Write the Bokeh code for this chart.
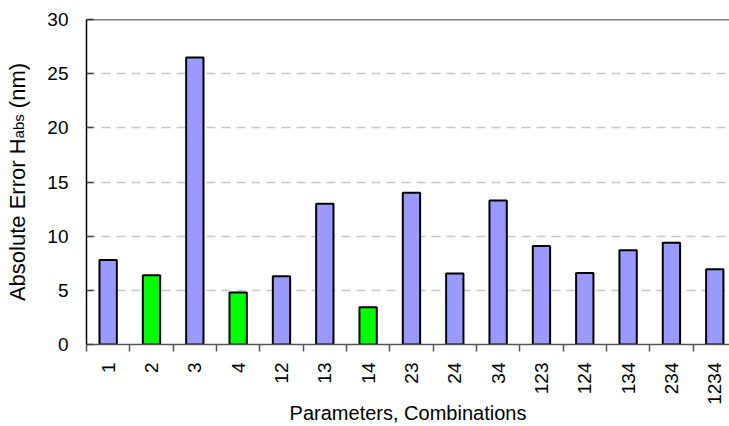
import numpy as np
from bokeh.plotting import figure
from bokeh.layouts import row
from bokeh.models import Range1d, FixedTicker, Span, ColumnDataSource, Label
from bokeh.embed import file_html
from bokeh.resources import INLINE

categories = ["1", "2", "3", "4", "12", "13", "14", "23", "24", "34",
              "123", "124", "134", "234", "1234"]
errors = [7.8, 6.4, 26.5, 4.8, 6.3, 13.0, 3.45, 14.0, 6.55, 13.3,
          9.1, 6.6, 8.7, 9.4, 6.95]
highlighted = ["2", "4", "14"]
y_ticks = [0, 5, 10, 15, 20, 25, 30]

FONT = "Liberation Sans"
BLUE = "#9999ff"
GREEN = "#00ff00"

W, H = 729, 426
LAB_W = 30
TOP, LEFT, BOTTOM = 19, 86, 82
FRAME_H = H - TOP - BOTTOM

centers = [i + 0.5 for i in range(len(categories))]
bounds = [float(i) for i in range(len(categories) + 1)]
colors = [GREEN if c in highlighted else BLUE for c in categories]

src = ColumnDataSource(dict(x=centers, top=errors, color=colors, cat=categories))

# ---- main chart ----
p = figure(width=W - LAB_W, height=H, output_backend="svg", toolbar_location=None,
           x_range=Range1d(0, 14.84), y_range=Range1d(0, 30),
           min_border_top=TOP, min_border_left=LEFT - LAB_W, min_border_right=0,
           min_border_bottom=BOTTOM)
p.outline_line_color = None
p.background_fill_color = "white"
p.border_fill_color = "white"

p.vbar(x="x", top="top", width=0.4, fill_color="color", line_color="black",
       line_width=2, source=src)

p.add_layout(Span(location=30, dimension="width", line_color="black", line_width=1.5))

p.xgrid.grid_line_color = None
p.ygrid.grid_line_color = "#c8c8c8"
p.ygrid.grid_line_dash = "9 6"
p.ygrid.grid_line_width = 1.5
p.ygrid.ticker = FixedTicker(ticks=y_ticks)

ya = p.yaxis[0]
ya.ticker = FixedTicker(ticks=y_ticks)
ya.axis_line_color = "black"
ya.axis_line_width = 1.5
ya.major_tick_in = 7
ya.major_tick_out = 0
ya.major_tick_line_color = "#444444"
ya.major_tick_line_width = 1.5
ya.minor_tick_line_color = None
ya.major_label_standoff = 18
ya.major_label_text_font = FONT
ya.major_label_text_font_size = "19px"
ya.major_label_text_color = "black"

xa = p.xaxis[0]
xa.ticker = FixedTicker(ticks=centers, minor_ticks=bounds)
xa.major_label_overrides = {c: lab for c, lab in zip(centers, categories)}
xa.major_label_orientation = np.pi / 2
xa.axis_line_color = "#555555"
xa.axis_line_width = 1.5
xa.major_tick_line_color = None
xa.major_tick_in = 0
xa.major_tick_out = 0
xa.minor_tick_in = 0
xa.minor_tick_out = 7
xa.minor_tick_line_color = "#555555"
xa.minor_tick_line_width = 1.5
xa.major_label_standoff = 11
xa.major_label_text_font = FONT
xa.major_label_text_font_size = "19px"
xa.major_label_text_color = "black"
xa.axis_label = "Parameters, Combinations"
xa.axis_label_text_font = FONT
xa.axis_label_text_font_size = "20px"
xa.axis_label_text_font_style = "normal"
xa.axis_label_text_color = "black"
xa.axis_label_standoff = -6

# ---- narrow strip holding the y-axis title (with subscript) ----
lab = figure(width=LAB_W, height=H, output_backend="svg", toolbar_location=None,
             x_axis_location=None, y_axis_location=None,
             x_range=Range1d(0, LAB_W), y_range=Range1d(0, H),
             min_border_left=0, min_border_right=0, min_border_top=0, min_border_bottom=0)
lab.outline_line_color = None
lab.grid.visible = False
lab.background_fill_color = "white"
lab.border_fill_color = "white"

MAIN_FS, SUB_FS = 22, 15
w_main = 7.392 * MAIN_FS
w_sub = 1.612 * SUB_FS
w_space = 0.278 * MAIN_FS
w_unit = 2.055 * MAIN_FS
total = w_main + w_sub + w_space + w_unit
# the strip's frame is aligned with the chart's frame
s0 = FRAME_H / 2 - total / 2
s1 = s0 + w_main
s2 = s1 + w_sub + w_space
for txt, yy, fs, xx in [("Absolute Error H", s0, MAIN_FS, 17), ("abs", s1, SUB_FS, 18),
                        ("(nm)", s2, MAIN_FS, 17)]:
    lab.add_layout(Label(x=xx, y=yy, x_units="screen", y_units="screen", text=txt,
                         angle=np.pi / 2, text_align="left", text_baseline="alphabetic",
                         text_font=FONT, text_font_size=f"{fs}px", text_color="black"))

layout = row(lab, p, spacing=0)
open("out.html", "w").write(file_html(layout, INLINE))
